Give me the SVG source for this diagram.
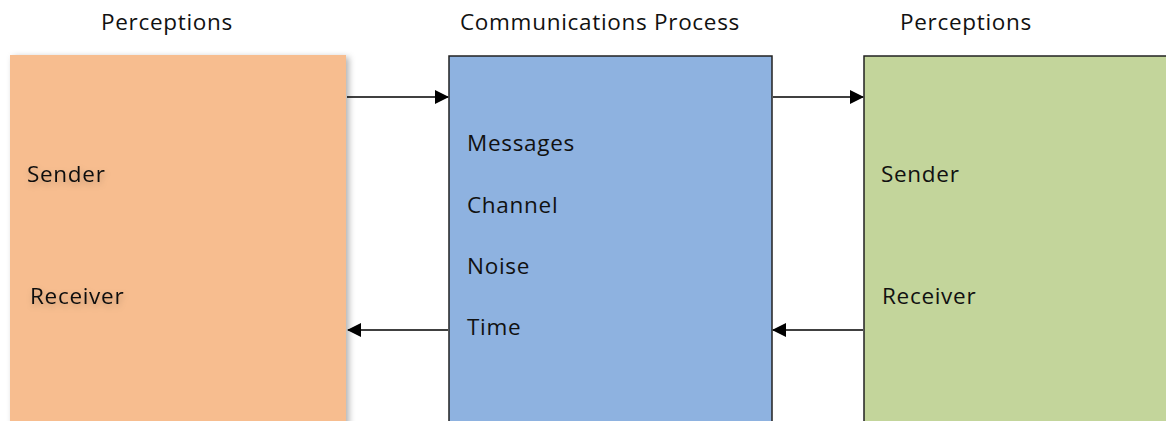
<svg xmlns="http://www.w3.org/2000/svg" width="1166" height="421" viewBox="0 0 1166 421">
<style>
text{font-family:"Open Sans","Liberation Sans",sans-serif;font-size:22.5px;letter-spacing:0.7px;fill:#111}
.title{text-anchor:middle}
.conn{stroke:#000;stroke-width:1.6;fill:none}
</style>
<defs>
<marker id="ah" markerWidth="14" markerHeight="14" refX="13" refY="7" orient="auto" markerUnits="userSpaceOnUse" viewBox="0 0 14 14">
<path d="M0,0 L14,7 L0,14 z" fill="#000"/>
</marker>
<filter id="sh" x="-5%" y="-5%" width="115%" height="115%">
<feDropShadow dx="3" dy="2" stdDeviation="3" flood-color="#000" flood-opacity="0.3"/>
</filter>
<filter id="tsh" x="-20%" y="-40%" width="140%" height="200%">
<feDropShadow dx="1" dy="3" stdDeviation="3" flood-color="#000" flood-opacity="0.2"/>
</filter>
</defs>
<rect width="1166" height="421" fill="#fff"/>
<g id="left">
<rect x="10" y="55" width="336" height="380" fill="#f7bd8f" filter="url(#sh)"/>
<text class="title" x="167" y="30">Perceptions</text>
<text x="27" y="182" filter="url(#tsh)">Sender</text>
<text x="30" y="304" filter="url(#tsh)">Receiver</text>
</g>
<g id="middle">
<rect x="449" y="56" width="323" height="380" fill="#8eb2e0" stroke="#222" stroke-width="1.5"/>
<text class="title" x="600" y="30">Communications Process</text>
<text x="467" y="151">Messages</text>
<text x="467" y="213">Channel</text>
<text x="467" y="274">Noise</text>
<text x="467" y="335">Time</text>
</g>
<g id="right">
<rect x="864" y="56" width="320" height="380" fill="#c3d59b" stroke="#222" stroke-width="1.5"/>
<text class="title" x="966" y="30">Perceptions</text>
<text x="881" y="182">Sender</text>
<text x="882" y="304">Receiver</text>
</g>
<g id="connectors">
<line class="conn" x1="347" y1="97" x2="448" y2="97" marker-end="url(#ah)"/>
<line class="conn" x1="773" y1="97" x2="863" y2="97" marker-end="url(#ah)"/>
<line class="conn" x1="448" y1="330" x2="348" y2="330" marker-end="url(#ah)"/>
<line class="conn" x1="863" y1="330" x2="773" y2="330" marker-end="url(#ah)"/>
</g>
</svg>
